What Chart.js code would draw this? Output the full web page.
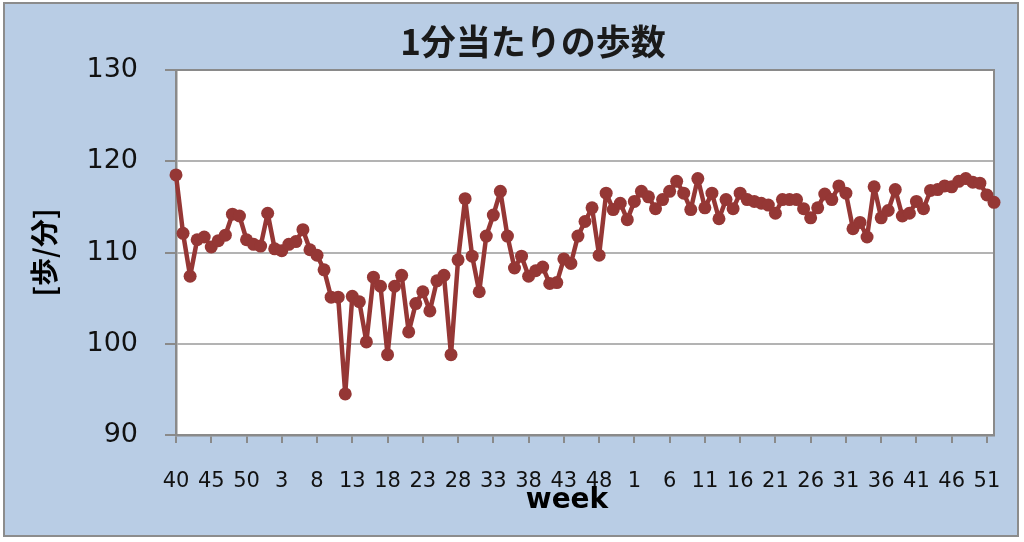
<!DOCTYPE html>
<html>
<head>
<meta charset="utf-8">
<script src="https://cdn.jsdelivr.net/npm/chart.js@4"></script>
<style>
  html, body { margin: 0; padding: 0; background: #fff; }
  #frame { position: absolute; left: 3px; top: 2px; width: 1012px; height: 531px;
           border: 2px solid #8c8c8c; background: #b9cde5; }
  #chart { position: absolute; left: 0; top: 0; }
</style>
</head>
<body>
<div id="frame"></div>
<canvas id="chart" width="1024" height="542"></canvas>
<script>
// week numbers, year 1 (40-52), year 2, year 3
const weeks = [
  '40','41','42','43','44','45','46','47','48','49','50','51','52',
  '1','2','3','4','5','6','7','8','9','10','11','12','13','14','15','16','17','18','19','20',
  '21','22','23','24','25','26','27','28','29','30','31','32','33','34','35','36','37','38','39','40',
  '41','42','43','44','45','46','47','48','49','50','51','52',
  '1','2','3','4','5','6','7','8','9','10','11','12','13','14','15','16','17','18','19','20',
  '21','22','23','24','25','26','27','28','29','30','31','32','33','34','35','36','37','38','39','40',
  '41','42','43','44','45','46','47','48','49','50','51','52'
];

// steps per minute
const stepsPerMin = [
  118.5, 112.1, 107.4, 111.4, 111.7, 110.6, 111.3, 111.9, 114.2, 114.0, 111.4, 110.9, 110.7, 114.3, 110.4, 110.2, 110.9, 111.2, 112.5,
  110.3, 109.7, 108.1, 105.1, 105.1, 94.5, 105.2, 104.6, 100.2, 107.3, 106.3, 98.8, 106.3, 107.5, 101.3, 104.4, 105.7, 103.6, 106.9,
  107.5, 98.8, 109.2, 115.9, 109.6, 105.7, 111.8, 114.1, 116.7, 111.8, 108.3, 109.6, 107.4, 108.0, 108.4, 106.6, 106.7, 109.3,
  108.8, 111.8, 113.4, 114.9, 109.7, 116.5, 114.7, 115.4, 113.6, 115.6, 116.7, 116.1, 114.8, 115.8, 116.7, 117.8, 116.5, 114.7, 118.1,
  114.9, 116.5, 113.7, 115.8, 114.8, 116.5, 115.8, 115.6, 115.4, 115.2, 114.3, 115.8, 115.8, 115.8, 114.8, 113.8, 114.9,
  116.4, 115.8, 117.3, 116.5, 112.6, 113.3, 111.7, 117.2, 113.8, 114.6, 116.9, 114.0, 114.3, 115.6, 114.8, 116.8, 116.9, 117.3,
  117.2, 117.8, 118.1, 117.7, 117.6, 116.3, 115.5
];

const yTicks = [90, 100, 110, 120, 130];
const labelEvery = 5;

const titleText = '1分当たりの歩数';
const xTitleText = 'week';

const lineColor = '#953735';
const gridColor = '#b3b3b3';
const axisColor = '#8a8a8a';

// white plot area with grey frame on top/right, plus the two titles
const plotArea = {
  id: 'plotArea',
  beforeDraw(chart){
    const {ctx, chartArea: a} = chart;
    ctx.save();
    ctx.fillStyle = '#fff';
    ctx.fillRect(a.left, a.top, a.right - a.left, a.bottom - a.top);
    ctx.restore();
  },
  beforeDatasetsDraw(chart){
    const {ctx, chartArea: a} = chart;
    ctx.save();
    ctx.strokeStyle = axisColor;
    ctx.lineWidth = 2;
    ctx.beginPath();
    ctx.moveTo(a.left, a.top);
    ctx.lineTo(a.right, a.top);
    ctx.lineTo(a.right, a.bottom);
    ctx.stroke();
    ctx.restore();
  },
  afterDraw(chart){
    const {ctx} = chart;
    ctx.save();
    ctx.textAlign = 'center';
    ctx.textBaseline = 'middle';
    ctx.fillStyle = '#1a1a1a';
    ctx.font = 'bold 35px "Noto Sans CJK JP", sans-serif';
    ctx.fillText(titleText, 533, 42);
    ctx.fillStyle = '#000';
    ctx.font = 'bold 28px "DejaVu Sans", sans-serif';
    ctx.fillText(xTitleText, 567, 501);
    ctx.restore();
  }
};

new Chart(document.getElementById('chart'), {
  type: 'line',
  data: {
    labels: weeks,
    datasets: [{
      data: stepsPerMin,
      borderColor: lineColor,
      backgroundColor: lineColor,
      borderWidth: 4.5,
      borderJoinStyle: 'round',
      borderCapStyle: 'round',
      pointRadius: 6.5,
      pointBorderWidth: 0,
      pointBackgroundColor: lineColor,
      tension: 0,
      clip: false
    }]
  },
  options: {
    responsive: false,
    animation: false,
    devicePixelRatio: 1,
    layout: { padding: { left: 0, right: 30, top: 70, bottom: 0 } },
    plugins: {
      legend: { display: false },
      tooltip: { enabled: false },
      title: { display: false }
    },
    scales: {
      x: {
        afterFit(s){ s.height = 107; },
        border: { color: axisColor, width: 2.5 },
        grid: {
          drawOnChartArea: false,
          drawTicks: true,
          tickLength: 8,
          lineWidth: 2,
          color: c => (c.index % labelEvery === 0 ? axisColor : 'rgba(0,0,0,0)')
        },
        ticks: {
          autoSkip: false,
          maxRotation: 0,
          padding: 26,
          color: '#111',
          font: { family: '"DejaVu Sans", sans-serif', size: 21 },
          callback: (v, i) => (i % labelEvery === 0 ? weeks[i] : '')
        }
      },
      y: {
        min: 90,
        max: 130,
        afterFit(s){ s.width = 176; },
        afterBuildTicks(s){ s.ticks = yTicks.map(v => ({ value: v })); },
        border: { color: axisColor, width: 2.5 },
        grid: { color: gridColor, lineWidth: 2, tickLength: 11, tickColor: axisColor },
        ticks: {
          padding: 27,
          color: '#111',
          font: { family: '"DejaVu Sans", sans-serif', size: 27 }
        },
        title: {
          display: true,
          text: '[歩/分]',
          color: '#000',
          font: { family: '"Noto Sans CJK JP", sans-serif', size: 28, weight: 'bold' },
          padding: { top: 28, bottom: 0 }
        }
      }
    }
  },
  plugins: [plotArea]
});
</script>
</body>
</html>
